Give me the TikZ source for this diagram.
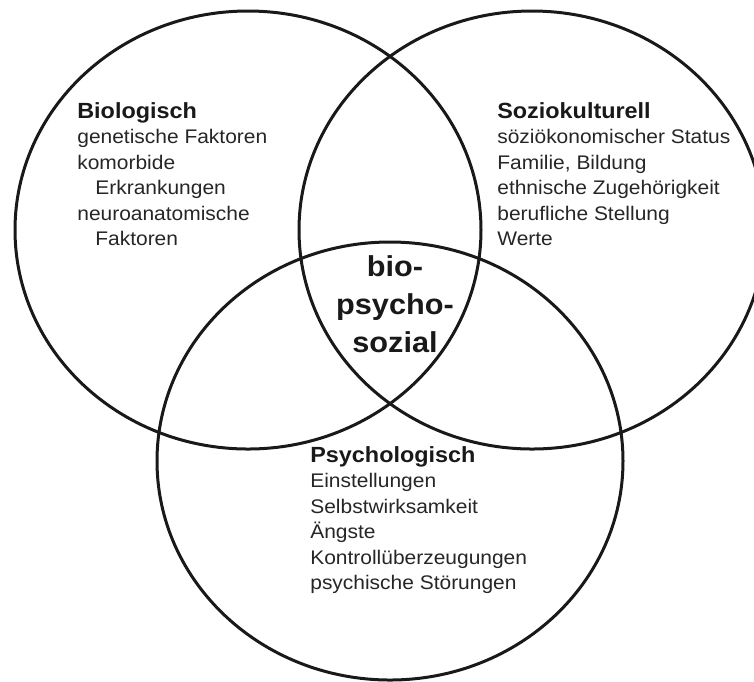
\documentclass[tikz,border=0pt]{standalone}
\usepackage{fontspec}
\setmainfont{Liberation Sans}[FakeStretch=1.065]

\begin{document}
\begin{tikzpicture}[x=0.02cm, y=-0.02cm,
        ring/.style={line width=0.06cm, draw=black!90},
        head/.style={font=\fontsize{12.5}{14.5}\selectfont\bfseries, text=black!90, anchor=base west, inner sep=0pt},
        item/.style={font=\fontsize{11.2}{14.5}\selectfont, text=black!85, anchor=base west, inner sep=0pt},
        core/.style={font=\fontsize{16.4}{21.6}\selectfont\bfseries, text=black!90, anchor=base, inner sep=0pt}]

        % drawing parameters
        \def\radx{233} % x radius of the circles
        \def\rady{219} % y radius of the circles
        \def\rowh{25.5} % line spacing

        \useasboundingbox (0,0) rectangle (754,681);
        \clip (0,0) rectangle (754,681);

        % the three circles
        \draw[ring] (248,230) ellipse [x radius=\radx, y radius=\rady];
        \draw[ring] (532,230) ellipse [x radius=\radx, y radius=\rady];
        \draw[ring] (390,461) ellipse [x radius=\radx, y radius=\rady];

        % biological factors
        \node[head] (bio) at (77,118) {Biologisch};
        \foreach \txt [count=\i] in {genetische Faktoren, komorbide,
            \hspace{0.36cm}Erkrankungen, neuroanatomische, \hspace{0.36cm}Faktoren} {
            \node[item] (bio\i) at (77,118+\i*\rowh) {\txt};
        }

        % sociocultural factors
        \node[head] (sozio) at (497,118) {Soziokulturell};
        \foreach \txt [count=\i] in {söziökonomischer Status, {Familie, Bildung},
            ethnische Zugehörigkeit, berufliche Stellung, Werte} {
            \node[item] (sozio\i) at (497,118+\i*\rowh) {\txt};
        }

        % psychological factors
        \node[head] (psycho) at (310,462) {Psychologisch};
        \foreach \txt [count=\i] in {Einstellungen, Selbstwirksamkeit, Ängste,
            Kontrollüberzeugungen, psychische Störungen} {
            \node[item] (psycho\i) at (310,462+\i*\rowh) {\txt};
        }

        % overlap in the middle
        \node[core] (core1) at (395,276) {bio-};
        \node[core] (core2) at (395,314) {psycho-};
        \node[core] (core3) at (395,352) {sozial};

    \end{tikzpicture}
\end{document}
